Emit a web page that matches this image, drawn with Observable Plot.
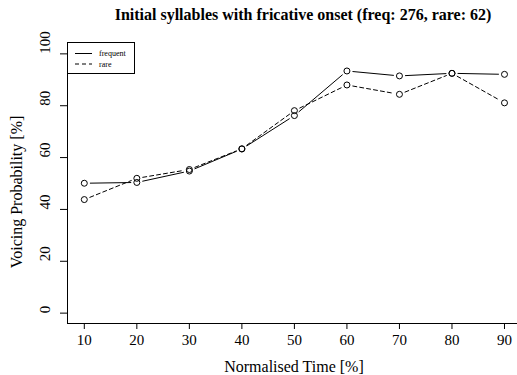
<!DOCTYPE html>
<html>
<head>
<meta charset="utf-8">
<script src="https://cdn.jsdelivr.net/npm/d3@7"></script>
<script src="https://cdn.jsdelivr.net/npm/@observablehq/plot@0.6"></script>
<style>
  html, body { margin: 0; padding: 0; background: #fff; }
  #chart svg { display: block; }
</style>
</head>
<body>
<div id="chart"></div>
<script>
const times = [10, 20, 30, 40, 50, 60, 70, 80, 90];
const frequent = [50.1, 50.4, 54.8, 63.3, 76.2, 93.4, 91.5, 92.5, 92.1];
const rare = [43.8, 52.0, 55.4, 63.4, 78.1, 88.0, 84.4, 92.5, 81.1];
const xTicks = [10, 20, 30, 40, 50, 60, 70, 80, 90];
const yTicks = [0, 20, 40, 60, 80, 100];
const seriesNames = ["frequent", "rare"];
const titleText = "Initial syllables with fricative onset (freq: 276, rare: 62)";
const xLabel = "Normalised Time [%]";
const yLabel = "Voicing Probability [%]";

const series = [
  {name: seriesNames[0], values: frequent, dash: null},
  {name: seriesNames[1], values: rare, dash: "4,3"}
];

function segs(values) {
  const out = [];
  for (let i = 0; i < times.length - 1; i++) {
    out.push({x1: times[i], y1: values[i], x2: times[i + 1], y2: values[i + 1]});
  }
  return out;
}

const FONT = "'Liberation Serif', 'Times New Roman', serif";

const marks = [
  Plot.ruleX([6.8], {stroke: "black", strokeWidth: 1}),
  Plot.ruleY([-4], {stroke: "black", strokeWidth: 1}),
  Plot.axisX({ticks: xTicks, tickSize: 6, tickFormat: () => "", label: null}),
  Plot.axisY({ticks: yTicks, tickSize: 7, tickFormat: () => "", label: null}),
  Plot.text(xTicks, {x: d => d, text: d => String(d), frameAnchor: "bottom", dy: 11, lineAnchor: "top", fontSize: 15, fill: "black"}),
  Plot.text(yTicks, {y: d => d, text: d => String(d), frameAnchor: "left", dx: -22, rotate: -90, fontSize: 15, fill: "black"})
];
for (const s of series) {
  marks.push(Plot.arrow(segs(s.values), {
    x1: "x1", y1: "y1", x2: "x2", y2: "y2",
    headLength: 0, inset: 6, bend: 0,
    stroke: "black", strokeWidth: 1,
    strokeDasharray: s.dash
  }));
  marks.push(Plot.dot(times.map((t, i) => ({x: t, y: s.values[i]})), {
    x: "x", y: "y", r: 3, stroke: "black", strokeWidth: 1, fill: "none"
  }));
}

const W = 517, H = 375;
const chart = Plot.plot({
  width: W,
  height: H,
  marginLeft: 67,
  marginRight: 0,
  marginTop: 43,
  marginBottom: 52,
  x: {domain: [6.8, 6.8 + (W - 67.2) / 5.25], ticks: xTicks},
  y: {domain: [-4, 104]},
  style: {fontFamily: FONT, fontSize: "15px", color: "black", background: "white", overflow: "visible"},
  marks
});

const svg = d3.select(chart);
// title
svg.append("text")
  .attr("x", 303).attr("y", 20)
  .attr("text-anchor", "middle")
  .attr("font-weight", "bold")
  .attr("font-size", 16)
  .attr("fill", "black")
  .text(titleText);
// x label
svg.append("text")
  .attr("x", 294).attr("y", 371.5)
  .attr("text-anchor", "middle")
  .attr("font-size", 16)
  .attr("fill", "black")
  .text(xLabel);
// y label
svg.append("text")
  .attr("transform", "translate(22,192) rotate(-90)")
  .attr("text-anchor", "middle")
  .attr("font-size", 16)
  .attr("fill", "black")
  .text(yLabel);
// legend
const lg = svg.append("g");
lg.append("rect").attr("x", 67.5).attr("y", 42.5).attr("width", 67).attr("height", 31)
  .attr("fill", "white").attr("stroke", "black").attr("stroke-width", 1);
series.forEach((s, i) => {
  const yy = 53.5 + i * 10.5;
  lg.append("line").attr("x1", 75).attr("x2", 92).attr("y1", yy).attr("y2", yy)
    .attr("stroke", "black").attr("stroke-width", 1)
    .attr("stroke-dasharray", s.dash);
  lg.append("text").attr("x", 99).attr("y", yy + 2.5)
    .attr("text-anchor", "start")
    .attr("font-size", 8).attr("fill", "black").text(s.name);
});

document.getElementById("chart").appendChild(chart);
</script>
</body>
</html>
